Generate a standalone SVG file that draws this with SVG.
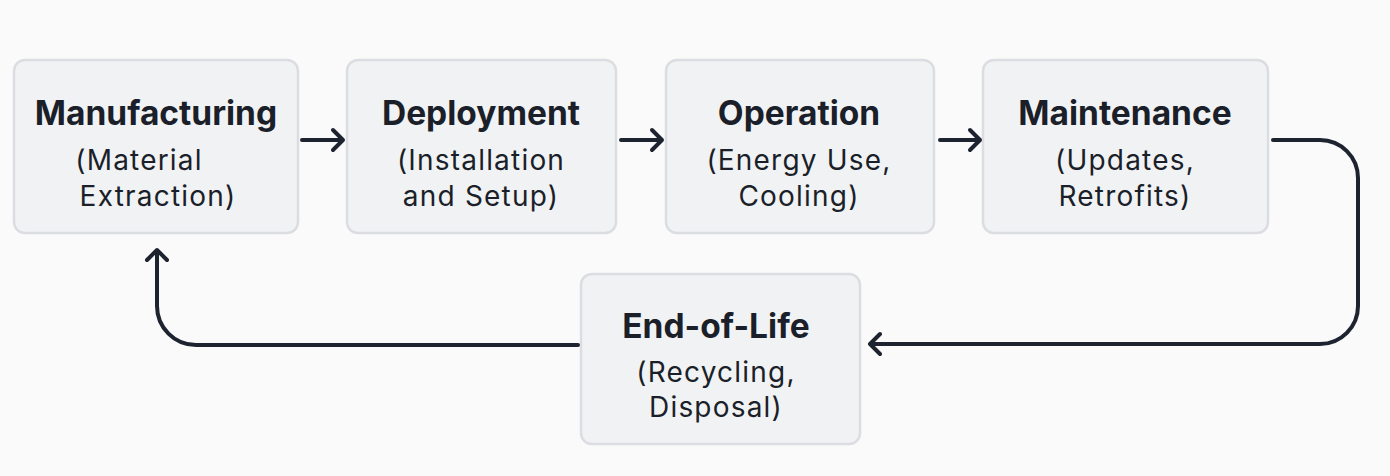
<svg xmlns="http://www.w3.org/2000/svg" width="1390" height="476" viewBox="0 0 1390 476">
<defs>
<style>
.box{fill:#f1f2f4;stroke:#dcdde1;stroke-width:2.5}
.t{font-family:Inter,"Liberation Sans",sans-serif;font-weight:700;font-size:33.5px;fill:#1b1f29;text-anchor:middle}
.s{font-family:Inter,"Liberation Sans",sans-serif;font-weight:400;font-size:28px;letter-spacing:1.2px;fill:#1b1f29;text-anchor:middle}
.c{fill:none;stroke:#1e2330;stroke-width:4;stroke-linecap:round;stroke-linejoin:round}
</style>
</defs>
<rect width="1390" height="476" fill="#fafafa"/>
<g id="n1"><rect class="box" x="14" y="60" width="284" height="173" rx="11"/>
<text class="t" x="156" y="125">Manufacturing</text>
<text class="s" x="139" y="170">(Material</text>
<text class="s" x="158" y="206">Extraction)</text></g>
<g id="n2"><rect class="box" x="347" y="60" width="269" height="173" rx="11"/>
<text class="t" x="481" y="125">Deployment</text>
<text class="s" x="481" y="170">(Installation</text>
<text class="s" x="481" y="206">and Setup)</text></g>
<g id="n3"><rect class="box" x="666" y="60" width="268" height="173" rx="11"/>
<text class="t" x="799" y="125">Operation</text>
<text class="s" x="799" y="170">(Energy Use,</text>
<text class="s" x="799" y="206">Cooling)</text></g>
<g id="n4"><rect class="box" x="983" y="60" width="285" height="173" rx="11"/>
<text class="t" x="1125" y="125">Maintenance</text>
<text class="s" x="1125" y="170">(Updates,</text>
<text class="s" x="1125" y="206">Retrofits)</text></g>
<g id="n5"><rect class="box" x="581" y="274" width="279" height="170" rx="11"/>
<text class="t" x="716" y="338">End-of-Life</text>
<text class="s" x="716" y="382">(Recycling,</text>
<text class="s" x="716" y="417">Disposal)</text></g>
<g id="connectors">
<path class="c" d="M302 140 H343 M333 130 L343 140 L333 150"/>
<path class="c" d="M621 140 H662 M652 130 L662 140 L652 150"/>
<path class="c" d="M940 140 H980 M970 130 L980 140 L970 150"/>
<path class="c" d="M1273 140 H1320 A38 38 0 0 1 1358 178 V306 A38 38 0 0 1 1320 344 H870 M880 334 L870 344 L880 354"/>
<path class="c" d="M578 345 H196 A39 39 0 0 1 157 306 V250 M147 260 L157 250 L167 260"/>
</g>
</svg>
